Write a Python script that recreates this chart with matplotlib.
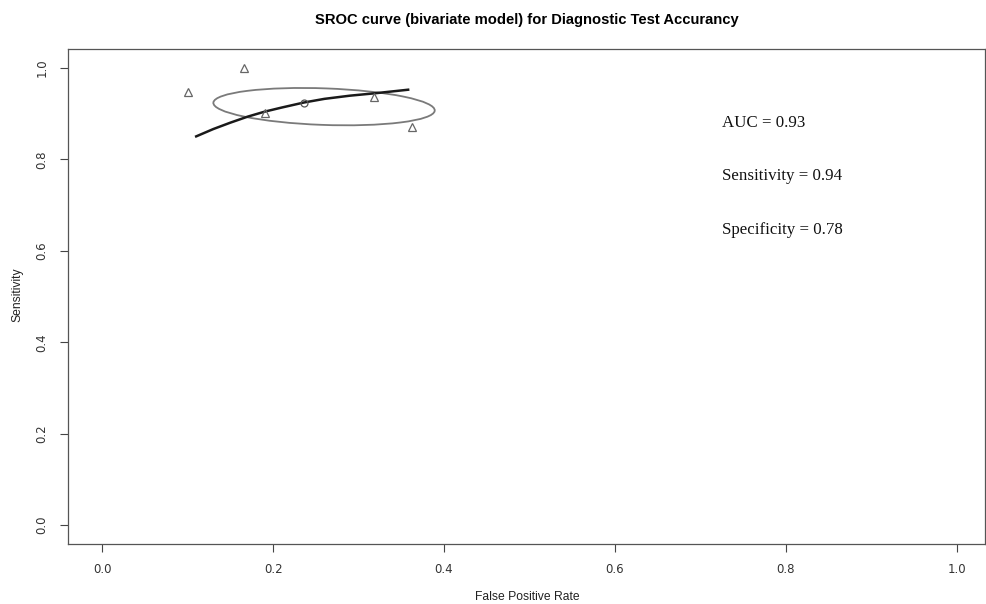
import numpy as np
import matplotlib.pyplot as plt
from matplotlib.patches import Ellipse

# study points (false positive rate, sensitivity)
study_fpr = [0.100, 0.166, 0.190, 0.318, 0.362]
study_sens = [0.948, 1.000, 0.902, 0.937, 0.870]

# summary estimate
summary_fpr = 0.236
summary_sens = 0.924

# SROC curve
sroc_fpr = [0.110, 0.130, 0.150, 0.170, 0.190, 0.210, 0.236, 0.260, 0.290, 0.318, 0.358]
sroc_sens = [0.850, 0.866, 0.880, 0.893, 0.904, 0.913, 0.924, 0.932, 0.939, 0.944, 0.952]

# confidence region: centre, full width, full height, angle (deg)
ell_center = (0.2596, 0.915)
ell_width = 0.2596
ell_height = 0.0798
ell_angle = -4.0

stats = ['AUC = 0.93', 'Sensitivity = 0.94', 'Specificity = 0.78']
stats_y = [0.880, 0.764, 0.646]

fig = plt.figure(figsize=(9.87, 6.04), dpi=100)
ax = fig.add_axes([68 / 987, 60 / 604, 917 / 987, 495 / 604])

ax.add_patch(Ellipse(ell_center, ell_width, ell_height, angle=ell_angle,
                     fill=False, edgecolor='#7a7a7a', lw=1.3))
ax.plot(sroc_fpr, sroc_sens, color='#1a1a1a', lw=1.8)
ax.plot(study_fpr, study_sens, ls='none', marker='^', ms=6, mfc='none',
        mec='#666666', mew=0.9)
ax.plot(summary_fpr, summary_sens, ls='none', marker='o', ms=5, mfc='none',
        mec='#555555', mew=0.9)

for s, y in zip(stats, stats_y):
    ax.text(0.725, y, s, fontsize=12.2, family='Liberation Serif',
            va='center', ha='left', color='#111111')

ax.set_xlim(-0.04, 1.033)
ax.set_ylim(-0.041, 1.041)
ax.set_xticks(np.arange(0, 1.01, 0.2))
ax.set_yticks(np.arange(0, 1.01, 0.2))
ax.set_xticklabels(['0.0', '0.2', '0.4', '0.6', '0.8', '1.0'])
ax.set_yticklabels(['0.0', '0.2', '0.4', '0.6', '0.8', '1.0'], rotation=90, va='center')
ax.tick_params(labelsize=8.5, colors='#444444', length=6, width=0.8, pad=8,
               labelcolor='#333333')
for sp in ax.spines.values():
    sp.set_color('#555555')
    sp.set_linewidth(0.9)

fig.text(527 / 987, 1 - 20 / 604, 'SROC curve (bivariate model) for Diagnostic Test Accurancy',
         ha='center', va='center', fontsize=10.6, fontweight='bold', family='Liberation Sans')
fig.text(527 / 987, 1 - 597 / 604, 'False Positive Rate', ha='center', va='center',
         fontsize=8.7, family='Liberation Sans', color='#222222')
fig.text(17 / 987, 1 - 295 / 604, 'Sensitivity', ha='center', va='center', rotation=90,
         fontsize=8.7, family='Liberation Sans', color='#222222')

fig.savefig('out.png', dpi=100)
